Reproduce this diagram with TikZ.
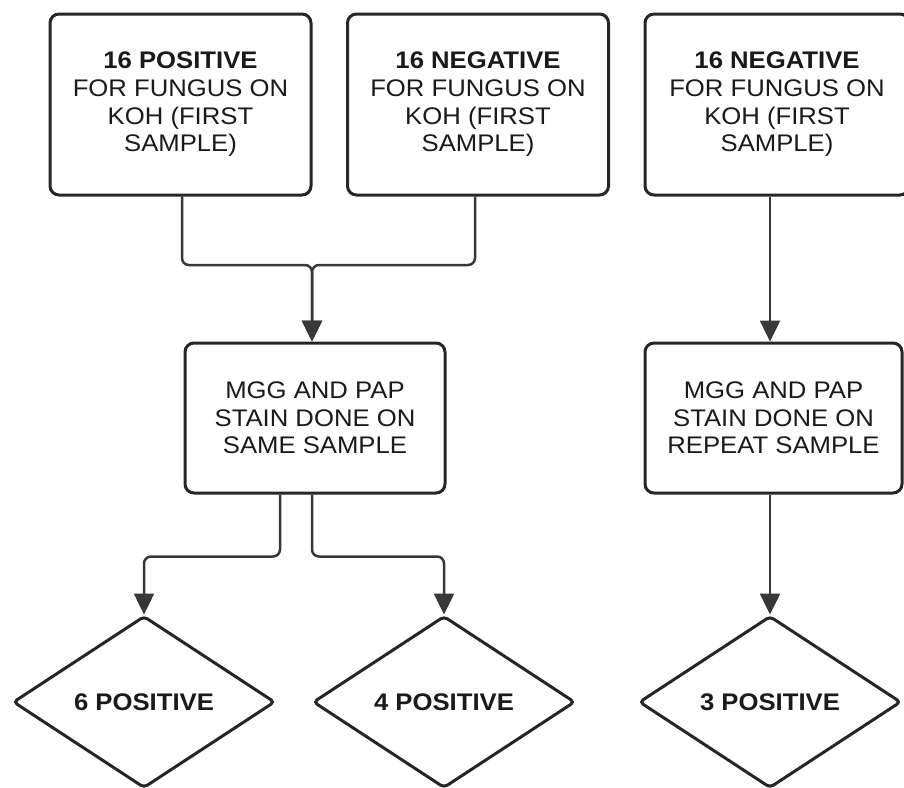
\documentclass[tikz,border=0pt]{standalone}
\usepackage{fontspec}
\setmainfont{Liberation Sans}[FakeStretch=1.07]
\usetikzlibrary{arrows.meta,shapes.geometric}
\definecolor{bord}{HTML}{262626}
\definecolor{conn}{HTML}{383838}
\definecolor{txt}{HTML}{1A1A1A}
\begin{document}
\begin{tikzpicture}[x=1pt,y=-1pt,
  box/.style={draw=bord, line width=3pt, rounded corners=9pt, minimum width=261pt,
    minimum height=181pt, align=center, text=txt, inner sep=0pt,
    font=\fontsize{24}{27.7}\selectfont},
  midbox/.style={box, minimum height=150pt},
  dia/.style={diamond, draw=bord, line width=3pt, rounded corners=4pt,
    minimum width=262pt, minimum height=172pt, inner sep=0pt, text=txt,
    font=\fontsize{24}{27.7}\selectfont\bfseries},
  conn/.style={draw=conn, line width=2.5pt, rounded corners=7pt},
  arr/.style={conn, -{Triangle[length=21pt,width=20pt]}}
]
\clip (0,0) rectangle (904,787);
\fill[white] (0,0) rectangle (904,787);

\node[box] (b1) at (180.5,104.5) {\textbf{16 POSITIVE}\\FOR FUNGUS ON\\KOH (FIRST\\SAMPLE)};
\node[box] (b2) at (478,104.5) {\textbf{16 NEGATIVE}\\FOR FUNGUS ON\\KOH (FIRST\\SAMPLE)};
\node[box, minimum width=264pt] (b3) at (777,104.5) {\textbf{16 NEGATIVE}\\FOR FUNGUS ON\\KOH (FIRST\\SAMPLE)};

\node[midbox, minimum width=260pt] (m1) at (315,418) {MGG AND PAP\\STAIN DONE ON\\SAME SAMPLE};
\node[midbox, minimum width=257pt] (m2) at (773.5,418) {MGG AND PAP\\STAIN DONE ON\\REPEAT SAMPLE};

\node[dia] (d1) at (144,702) {6 POSITIVE};
\node[dia] (d2) at (444,702) {4 POSITIVE};
\node[dia] (d3) at (770,702) {3 POSITIVE};

\coordinate (mg) at (312,265);
\draw[arr] ([xshift=1.5pt]b1.south) |- (mg) -- (m1.north -| mg);
\draw[arr] ([xshift=-3pt]b2.south) |- (mg) -- (m1.north -| mg);

\draw[arr] (b3.south -| d3.north) -- (m2.north -| d3.north);
\draw[arr] (m2.south -| d3.north) -- (d3.north);

\draw[arr] ([xshift=-35pt]m1.south) -- ++(0,62) -| (d1.north);
\draw[arr] ([xshift=-3pt]m1.south) -- ++(0,62) -| (d2.north);
\end{tikzpicture}
\end{document}
